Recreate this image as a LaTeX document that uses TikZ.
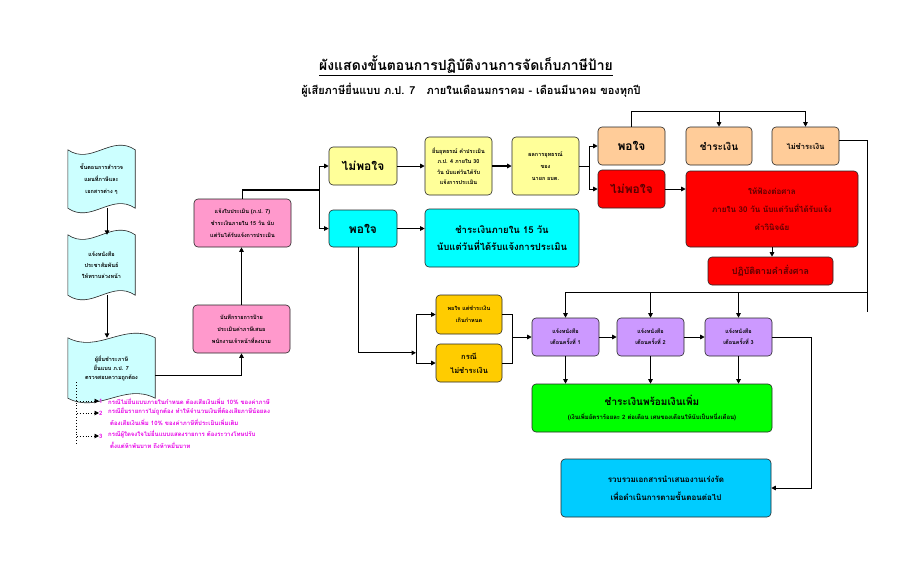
\documentclass[tikz,border=0pt]{standalone}
\usepackage{fontspec}
\setmainfont[Script=Thai]{Loma}
\usetikzlibrary{calc,backgrounds,arrows.meta}
\definecolor{docc}{RGB}{204,255,255}
\definecolor{pinkc}{RGB}{255,153,204}
\definecolor{lyellow}{RGB}{255,255,153}
\definecolor{cyanc}{RGB}{0,255,255}
\definecolor{tanc}{RGB}{255,204,153}
\definecolor{redc}{RGB}{255,0,0}
\definecolor{redtxt}{RGB}{90,0,0}
\definecolor{goldc}{RGB}{255,204,0}
\definecolor{purc}{RGB}{204,153,255}
\definecolor{greenc}{RGB}{0,255,0}
\definecolor{bluec}{RGB}{0,204,255}
\definecolor{notec}{RGB}{230,0,230}
\newcommand\myfs[2]{\fontsize{#1}{#2}\selectfont}
\newcommand\docshape[1]{%
  \draw[docst] (#1.north west)
    .. controls ($(#1.north west)!0.35!(#1.north east)+(0,16)$) and ($(#1.north west)!0.65!(#1.north east)+(0,-16)$) .. (#1.north east)
    -- (#1.south east)
    .. controls ($(#1.south west)!0.65!(#1.south east)+(0,-16)$) and ($(#1.south west)!0.35!(#1.south east)+(0,16)$) .. (#1.south west)
    -- cycle;}
\tikzset{
  box/.style={draw=black!85, line width=0.6pt, rounded corners=4pt, align=center, inner sep=1pt, text=black},
  docnode/.style={draw=none, align=center, inner sep=0pt, text=black},
  docst/.style={draw=black!85, line width=0.6pt, fill=docc},
  arr/.style={line width=1pt, -{Triangle[length=4.5pt,width=4.5pt]}},
  ln/.style={line width=1pt},
  thk/.style={line width=1.6pt},
  dotarr/.style={line width=0.9pt, dotted, -{Triangle[length=4.5pt,width=4.5pt]}},
  note/.style={text=notec, align=left, inner sep=0pt, font=\myfs{6}{12.5}\bfseries},
}
\begin{document}
\begin{tikzpicture}[x=1pt,y=-1pt]
\useasboundingbox (0,0) rectangle (900,587);

% titles
\node[font=\myfs{14}{16}\bfseries] (title) at (466,66) {\underline{ผังแสดงขั้นตอนการปฏิบัติงานการจัดเก็บภาษีป้าย}};
\node[font=\myfs{11}{13}\bfseries] (subtitle) at (471,90) {ผู้เสียภาษียื่นแบบ ภ.ป. 7\quad ภายในเดือนมกราคม - เดือนมีนาคม ของทุกปี};

% documents
\node[docnode, minimum width=67pt, minimum height=58pt, font=\myfs{5.5}{12}\bfseries] (doc1) at (101.5,179) {ขั้นตอนการสำรวจ\\แผนที่ภาษีและ\\เอกสารต่าง ๆ};
\node[docnode, minimum width=67pt, minimum height=60pt, font=\myfs{5.5}{11}\bfseries] (doc2) at (101.5,265) {แจ้งหนังสือ\\ประชาสัมพันธ์\\ให้ทราบล่วงหน้า};
\node[docnode, minimum width=87pt, minimum height=60pt, font=\myfs{5.5}{9}\bfseries] (doc3) at (111.5,368) {ผู้ยื่นชำระภาษี\\ยื่นแบบ ภ.ป. 7\\ตรวจสอบความถูกต้อง};
\begin{scope}[on background layer]
\docshape{doc1}
\docshape{doc2}
\docshape{doc3}
\end{scope}

% pink boxes
\node[box, fill=pinkc, minimum width=97pt, minimum height=48pt, font=\myfs{5.5}{12}\bfseries] (pink1) at (241.5,329) {บันทึกรายการป้าย\\ประเมินค่าภาษีเสนอ\\พนักงานเจ้าหน้าที่ลงนาม};
\node[box, fill=pinkc, minimum width=97pt, minimum height=48pt, font=\myfs{5.5}{12}\bfseries] (pink2) at (242.5,223) {แจ้งใบประเมิน (ภ.ป. 7)\\ชำระเงินภายใน 15 วัน นับ\\แต่วันได้รับแจ้งการประเมิน};

% first decision
\node[box, fill=lyellow, minimum width=68pt, minimum height=38pt, font=\myfs{12}{14}\bfseries] (nopo) at (363,166) {ไม่พอใจ};
\node[box, fill=cyanc, minimum width=68pt, minimum height=37pt, font=\myfs{12}{14}\bfseries] (po) at (363,228.5) {พอใจ};

\node[box, fill=lyellow, minimum width=67pt, minimum height=58pt, font=\myfs{5.5}{10.5}\bfseries] (appeal) at (458.5,166) {ยื่นอุทธรณ์ คำประเมิน\\ภ.ป. 4 ภายใน 30\\วัน นับแต่วันได้รับ\\แจ้งการประเมิน};
\node[box, fill=lyellow, minimum width=67pt, minimum height=58pt, font=\myfs{5.5}{12}\bfseries] (result) at (545.5,166) {ผลการอุทธรณ์\\ของ\\นายก อบต.};
\node[box, fill=cyanc, minimum width=154pt, minimum height=58pt, font=\myfs{9.5}{17}\bfseries] (pay15) at (502,238) {ชำระเงินภายใน 15 วัน\\นับแต่วันที่ได้รับแจ้งการประเมิน};

% second decision
\node[box, fill=tanc, minimum width=67pt, minimum height=38pt, font=\myfs{12}{14}\bfseries] (po2) at (631.5,146) {พอใจ};
\node[box, fill=redc, minimum width=67pt, minimum height=38pt, font=\myfs{12}{14}\bfseries, text=redtxt] (nopo2) at (631.5,189) {ไม่พอใจ};
\node[box, fill=tanc, minimum width=66pt, minimum height=38pt, font=\myfs{10}{12}\bfseries] (pay) at (719,146) {ชำระเงิน};
\node[box, fill=tanc, minimum width=67pt, minimum height=38pt, font=\myfs{7.5}{10}\bfseries] (nopay) at (805.5,146) {ไม่ชำระเงิน};
\node[box, fill=redc, minimum width=172pt, minimum height=76pt, font=\myfs{8}{18}\bfseries, text=redtxt] (court) at (772,209) {ให้ฟ้องต่อศาล\\ภายใน 30 วัน นับแต่วันที่ได้รับแจ้ง\\คำวินิจฉัย};
\node[box, fill=redc, minimum width=125pt, minimum height=28pt, font=\myfs{9}{11}\bfseries, text=redtxt] (order) at (770.5,271) {ปฏิบัติตามคำสั่งศาล};

% late payment
\node[box, fill=goldc, minimum width=66pt, minimum height=39pt, font=\myfs{5.5}{12}\bfseries] (goldA) at (469,314.5) {พอใจ แต่ชำระเงิน\\เกินกำหนด};
\node[box, fill=goldc, minimum width=66pt, minimum height=38pt, font=\myfs{7.5}{14}\bfseries] (goldB) at (469,363) {กรณี\\ไม่ชำระเงิน};
\node[box, fill=purc, minimum width=67pt, minimum height=38pt, font=\myfs{5.5}{11}\bfseries] (pur1) at (565.5,337) {แจ้งหนังสือ\\เตือนครั้งที่ 1};
\node[box, fill=purc, minimum width=67pt, minimum height=38pt, font=\myfs{5.5}{11}\bfseries] (pur2) at (650.5,337) {แจ้งหนังสือ\\เตือนครั้งที่ 2};
\node[box, fill=purc, minimum width=67pt, minimum height=38pt, font=\myfs{5.5}{11}\bfseries] (pur3) at (738.5,337) {แจ้งหนังสือ\\เตือนครั้งที่ 3};
\node[box, fill=greenc, minimum width=240pt, minimum height=48pt] (green) at (652,408) {{\myfs{10}{12}\bfseries ชำระเงินพร้อมเงินเพิ่ม}\\[2pt]{\myfs{6}{8}\bfseries (เงินเพิ่มอัตราร้อยละ 2 ต่อเดือน เศษของเดือนให้นับเป็นหนึ่งเดือน)}};
\node[box, fill=bluec, minimum width=210pt, minimum height=58pt, font=\myfs{8}{18}\bfseries] (final) at (666,488) {รวบรวมเอกสารนำเสนองานเร่งรัด\\เพื่อดำเนินการตามขั้นตอนต่อไป};

% notes
\node[note, anchor=west] (k1) at (99,401) {1};
\node[note, anchor=west] (k2) at (99,413) {2};
\node[note, anchor=west] (k3) at (99,436) {3};
\node[note, anchor=west] (t1) at (108,401) {กรณีไม่ยื่นแบบภายในกำหนด ต้องเสียเงินเพิ่ม 10\% ของค่าภาษี};
\node[note, anchor=north west] (t2) at (108,407) {กรณียื่นรายการไม่ถูกต้อง ทำให้จำนวนเงินที่ต้องเสียภาษีน้อยลง\\\hspace*{2pt}ต้องเสียเงินเพิ่ม 10\% ของค่าภาษีที่ประเมินเพิ่มเติม};
\node[note, anchor=north west] (t3) at (108,430) {กรณีผู้ใดจงใจไม่ยื่นแบบแสดงรายการ ต้องระวางโทษปรับ\\\hspace*{2pt}ตั้งแต่ห้าพันบาท ถึงห้าหมื่นบาท};
\coordinate (dtop) at ($(doc3.south west)+(9,-16)$);
\coordinate (dbot) at ($(doc3.south west)+(9,46)$);
\draw[line width=0.9pt, dotted] (dtop) -- (dbot);
\draw[dotarr] (dtop |- k1.west) -- (k1.west);
\draw[dotarr] (dtop |- k2.west) -- (k2.west);
\draw[dotarr] (dtop |- k3.west) -- (k3.west);

% connectors left
\draw[arr] ([xshift=5.5pt]doc1.south) -- ([xshift=5.5pt]doc2.north);
\draw[arr] ([xshift=5.5pt]doc2.south) -- ([xshift=-4.5pt]doc3.north);
\draw[arr] ([yshift=-7pt]doc3.east) -| (pink1.south);
\draw[arr] (pink1.north) -- (pink1.north |- pink2.south);
\coordinate (br1) at ($(pink2.north)+(76.5,-9)$);
\draw[thk] (pink2.north) |- (br1);
\draw[arr] (br1) |- (nopo.west);
\draw[arr] (br1) |- (po.west);

% top branch
\draw[arr] (nopo.east) -- (appeal.west);
\draw[arr, line width=1.6pt] (appeal.east) -- (result.west);
\draw[arr] (po.east) -- (po.east -| pay15.west);
\coordinate (br2) at ($(result.east)+(10,0)$);
\draw[ln] (result.east) -- (br2);
\draw[arr] (br2) |- (po2.west);
\draw[arr] (br2) |- (nopo2.west);
\coordinate (topL) at ($(po2.north)+(0,-15)$);
\draw[ln] (po2.north) -- (topL) -- (topL -| nopay.north);
\draw[arr] (topL -| pay.north) -- (pay.north);
\draw[arr] (topL -| nopay.north) -- (nopay.north);
\draw[arr] (nopo2.east) -- (nopo2.east -| court.west);
\draw[arr] (court.south) -- (court.south |- order.north);

% right loop to reminders
\coordinate (rtop) at ($(nopay.east)+(28,-6)$);
\coordinate (rbot) at ($(rtop)+(0,172)$);
\coordinate (hl) at ($(rtop)+(0,152)$);
\draw[ln] ([yshift=6pt]nopay.east) -- (rtop) -- (rbot);
\draw[ln] (hl) -- (hl -| pur1.north);
\draw[arr] (hl -| pur1.north) -- (pur1.north);
\draw[arr] (hl -| pur2.north) -- (pur2.north);
\draw[arr] (hl -| pur3.north) -- (pur3.north);

% satisfied but late
\coordinate (jA) at ($(po.south)+(53,105.5)$);
\draw[arr] ([xshift=-5pt]po.south) |- (jA);
\draw[ln] (jA |- goldA.west) -- (jA |- goldB.west);
\draw[arr] (jA |- goldA.west) -- (goldA.west);
\draw[arr] (jA |- goldB.west) -- (goldB.west);
\coordinate (jB) at ($(pur1.west)+(-19,0)$);
\draw[ln] (goldA.east) -| (jB);
\draw[ln] (goldB.east) -| (jB);
\draw[arr] (jB) -- (pur1.west);
\draw[arr] (pur1.east) -- (pur2.west);
\draw[arr] (pur2.east) -- (pur3.west);
\draw[arr] (pur1.south) -- (pur1.south |- green.north);
\draw[arr] (pur2.south) -- (pur2.south |- green.north);
\draw[arr] (pur3.south) -- (pur3.south |- green.north);
\draw[arr] (pur3.east) -- ++(39,0) |- (final.east);
\end{tikzpicture}
\end{document}
